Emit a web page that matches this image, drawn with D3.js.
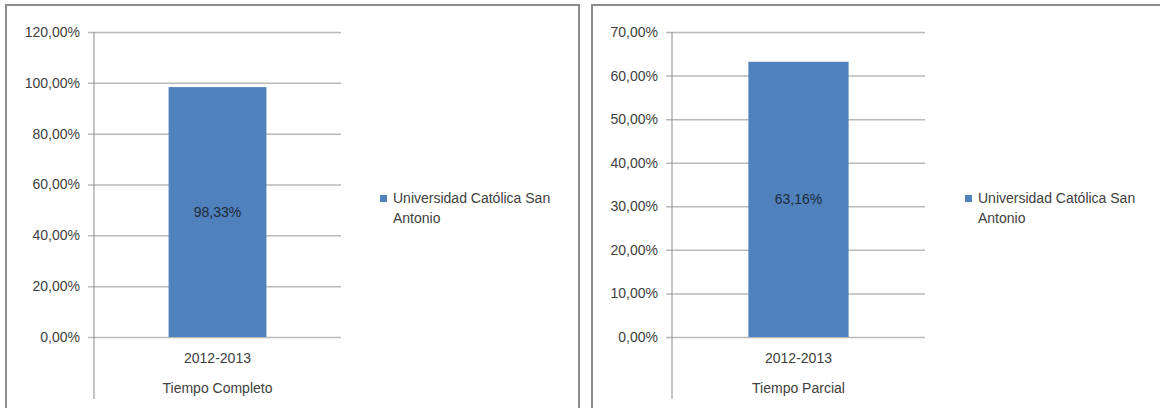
<!DOCTYPE html>
<html>
<head>
<meta charset="utf-8">
<script src="https://cdn.jsdelivr.net/npm/d3@7"></script>
<style>
  html, body { margin: 0; padding: 0; background: #fff; }
  svg { display: block; }
  text { font-family: "Liberation Sans", Arial, sans-serif; }
</style>
</head>
<body>
<svg id="chart" width="1160" height="408"></svg>
<script>
// ---- data ----
const categories = ["2012-2013"];
const groupLabels = ["Tiempo Completo", "Tiempo Parcial"];
const seriesName = ["Universidad Católica San", "Antonio"];
const tiempoCompleto = [0.9833];
const tiempoParcial = [0.6316];
const yTicksCompleto = [0, 0.2, 0.4, 0.6, 0.8, 1.0, 1.2];
const yTicksParcial = [0, 0.1, 0.2, 0.3, 0.4, 0.5, 0.6, 0.7];

const locale = d3.formatLocale({decimal: ",", thousands: ".", grouping: [3], currency: ["", "€"]});
const pct = locale.format(".2%");

const svg = d3.select("#chart");
const barColor = "#4f81bd";
const gridColor = "#b9b9b9";
const axisColor = "#8a8a8a";
const textColor = "#404040";
const fs = 14;

const panels = [
  {frameX: 6, frameR: 579, axisX: 94, plotR: 341, values: tiempoCompleto, ticks: yTicksCompleto,
   group: groupLabels[0], legendX: 380},
  {frameX: 592, frameR: 1170, axisX: 672, plotR: 925, values: tiempoParcial, ticks: yTicksParcial,
   group: groupLabels[1], legendX: 965}
];

const plotTop = 32, plotBottom = 337, axisBottom = 399;

panels.forEach(p => {
  const g = svg.append("g");
  // frame
  g.append("path")
    .attr("d", `M${p.frameX},420 V5 H${p.frameR} V420`)
    .attr("fill", "none").attr("stroke", "#8c8c8c").attr("stroke-width", 2);

  const y = d3.scaleLinear()
    .domain([0, p.ticks[p.ticks.length - 1]])
    .range([plotBottom, plotTop]);
  const x = d3.scaleBand()
    .domain(categories)
    .range([p.axisX, p.plotR])
    .paddingInner(0.2)
    .paddingOuter(0.61);

  // gridlines + ticks
  const yAxis = d3.axisLeft(y)
    .tickValues(p.ticks)
    .tickFormat(pct)
    .tickSize(-(p.plotR - p.axisX))
    .tickPadding(14);
  const ga = g.append("g").attr("transform", `translate(${p.axisX},0)`).call(yAxis);
  ga.select(".domain").remove();
  ga.selectAll(".tick line")
    .attr("x1", -6)
    .attr("stroke", gridColor).attr("stroke-width", 1.5);
  ga.selectAll(".tick text")
    .attr("fill", textColor)
    .attr("font-size", fs)
    .attr("font-family", "Liberation Sans, Arial, sans-serif");

  // vertical axis line
  g.append("line")
    .attr("x1", p.axisX).attr("x2", p.axisX)
    .attr("y1", plotTop).attr("y2", axisBottom)
    .attr("stroke", axisColor).attr("stroke-width", 1);

  // bars
  g.selectAll("rect.bar")
    .data(p.values)
    .join("rect")
    .attr("class", "bar")
    .attr("x", (d, i) => x(categories[i]))
    .attr("width", x.bandwidth())
    .attr("y", d => y(d))
    .attr("height", d => y(0) - y(d))
    .attr("fill", barColor);

  // value labels
  g.selectAll("text.val")
    .data(p.values)
    .join("text")
    .attr("class", "val")
    .attr("x", (d, i) => x(categories[i]) + x.bandwidth() / 2)
    .attr("y", d => (y(d) + y(0)) / 2)
    .attr("dy", "0.35em")
    .attr("text-anchor", "middle")
    .attr("font-size", fs)
    .attr("fill", "#1e2a38")
    .text(d => pct(d));

  // category labels
  categories.forEach(c => {
    g.append("text")
      .attr("x", x(c) + x.bandwidth() / 2)
      .attr("y", 358).attr("dy", "0.35em")
      .attr("text-anchor", "middle")
      .attr("font-size", fs).attr("fill", textColor)
      .text(c);
  });
  g.append("text")
    .attr("x", (p.axisX + p.plotR) / 2)
    .attr("y", 388).attr("dy", "0.35em")
    .attr("text-anchor", "middle")
    .attr("font-size", fs).attr("fill", textColor)
    .text(p.group);

  // legend
  g.append("rect")
    .attr("x", p.legendX).attr("y", 195)
    .attr("width", 7).attr("height", 7)
    .attr("fill", barColor);
  const lt = g.append("text")
    .attr("x", p.legendX + 13).attr("y", 198)
    .attr("font-size", fs).attr("fill", textColor);
  seriesName.forEach((s, i) => {
    lt.append("tspan")
      .attr("x", p.legendX + 13)
      .attr("dy", i === 0 ? "0.35em" : "1.4em")
      .text(s);
  });
});
</script>
</body>
</html>
